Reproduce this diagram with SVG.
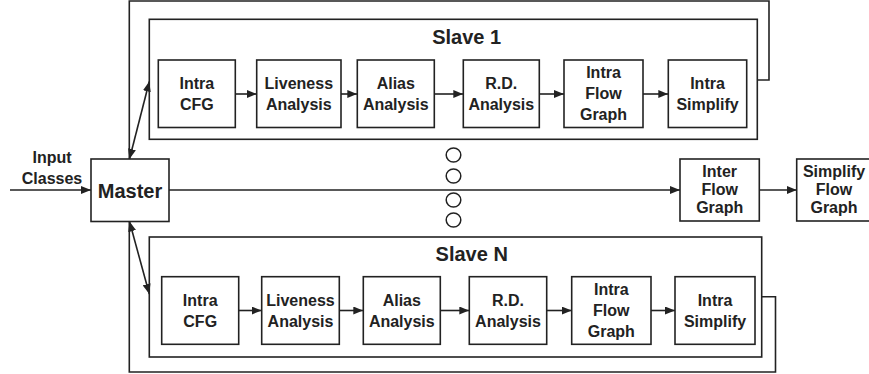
<svg xmlns="http://www.w3.org/2000/svg" width="869" height="374" viewBox="0 0 869 374">
  <style>
    .box { fill: #fff; stroke: #222; stroke-width: 1.6; }
    .frame { fill: none; stroke: #222; stroke-width: 1.6; }
    .wire { fill: none; stroke: #222; stroke-width: 1.6; }
    .dot { fill: #fff; stroke: #222; stroke-width: 1.5; }
    text { font-family: "Liberation Sans", Arial, sans-serif; font-weight: bold; fill: #222; text-anchor: middle; }
    .lbl { font-size: 16px; }
    .big { font-size: 20px; }
  </style>
  <defs>
    <marker id="arr" markerUnits="userSpaceOnUse" markerWidth="10" markerHeight="8" refX="10" refY="4" orient="auto-start-reverse">
      <path d="M0,0 L10,4 L0,8 z" fill="#222"/>
    </marker>
  </defs>
  <rect width="869" height="374" fill="#fff"/>

  <!-- slave containers -->
  <g id="slave1">
    <rect class="frame" x="149.3" y="19.3" width="608" height="120"/>
    <text class="big" x="466.7" y="44">Slave 1</text>
  </g>
  <g id="slaveN">
    <rect class="frame" x="149.3" y="237" width="612.4" height="120"/>
    <text class="big" x="471.7" y="261">Slave N</text>
  </g>

  <!-- Slave 1 pipeline -->
  <g id="s1-cfg"><rect class="box" x="158.3" y="60" width="77" height="67.5"/>
    <text class="lbl" x="196.8" y="88.5">Intra</text><text class="lbl" x="196.8" y="109.5">CFG</text></g>
  <g id="s1-live"><rect class="box" x="256.7" y="60" width="84.3" height="67.5"/>
    <text class="lbl" x="298.8" y="88.5">Liveness</text><text class="lbl" x="298.8" y="109.5">Analysis</text></g>
  <g id="s1-alias"><rect class="box" x="357.3" y="60" width="77" height="67.5"/>
    <text class="lbl" x="395.8" y="88.5">Alias</text><text class="lbl" x="395.8" y="109.5">Analysis</text></g>
  <g id="s1-rd"><rect class="box" x="463.3" y="60" width="76" height="67.5"/>
    <text class="lbl" x="501.3" y="88.5">R.D.</text><text class="lbl" x="501.3" y="109.5">Analysis</text></g>
  <g id="s1-flow"><rect class="box" x="564" y="60" width="79" height="67.5"/>
    <text class="lbl" x="603.5" y="78">Intra</text><text class="lbl" x="603.5" y="99">Flow</text><text class="lbl" x="603.5" y="120">Graph</text></g>
  <g id="s1-simp"><rect class="box" x="668.3" y="60" width="78.4" height="67.5"/>
    <text class="lbl" x="707.5" y="88.5">Intra</text><text class="lbl" x="707.5" y="109.5">Simplify</text></g>

  <!-- Slave N pipeline -->
  <g id="sn-cfg"><rect class="box" x="161.7" y="276.7" width="77" height="67.6"/>
    <text class="lbl" x="200.2" y="305.5">Intra</text><text class="lbl" x="200.2" y="326.5">CFG</text></g>
  <g id="sn-live"><rect class="box" x="261.7" y="276.7" width="77.6" height="67.6"/>
    <text class="lbl" x="300.5" y="305.5">Liveness</text><text class="lbl" x="300.5" y="326.5">Analysis</text></g>
  <g id="sn-alias"><rect class="box" x="363.3" y="276.7" width="77" height="67.6"/>
    <text class="lbl" x="401.8" y="305.5">Alias</text><text class="lbl" x="401.8" y="326.5">Analysis</text></g>
  <g id="sn-rd"><rect class="box" x="469.3" y="276.7" width="77.4" height="67.6"/>
    <text class="lbl" x="508" y="305.5">R.D.</text><text class="lbl" x="508" y="326.5">Analysis</text></g>
  <g id="sn-flow"><rect class="box" x="571.7" y="276.7" width="79.3" height="67.6"/>
    <text class="lbl" x="611.3" y="295">Intra</text><text class="lbl" x="611.3" y="316">Flow</text><text class="lbl" x="611.3" y="337">Graph</text></g>
  <g id="sn-simp"><rect class="box" x="675" y="276.7" width="80" height="67.6"/>
    <text class="lbl" x="715" y="305.5">Intra</text><text class="lbl" x="715" y="326.5">Simplify</text></g>

  <!-- master and global stages -->
  <g id="input">
    <text class="lbl" x="52" y="163.3">Input</text>
    <text class="lbl" x="52" y="184.3">Classes</text>
  </g>
  <g id="master">
    <rect class="box" x="91" y="159" width="78" height="62.5"/>
    <text class="big" x="130" y="197.5">Master</text>
  </g>
  <g id="inter">
    <rect class="box" x="680" y="159" width="79.3" height="62"/>
    <text class="lbl" x="719.7" y="176.7">Inter</text><text class="lbl" x="719.7" y="195">Flow</text><text class="lbl" x="719.7" y="213.3">Graph</text>
  </g>
  <g id="simplify">
    <rect class="box" x="796.7" y="159" width="75" height="62"/>
    <text class="lbl" x="834" y="176.7">Simplify</text><text class="lbl" x="834" y="195">Flow</text><text class="lbl" x="834" y="213.3">Graph</text>
  </g>

  <!-- ellipsis between slaves -->
  <g id="more">
    <ellipse class="dot" cx="453.5" cy="155" rx="7.3" ry="7"/>
    <ellipse class="dot" cx="453.5" cy="176" rx="7.3" ry="7"/>
    <ellipse class="dot" cx="453.5" cy="200" rx="7.3" ry="7"/>
    <ellipse class="dot" cx="453.5" cy="220" rx="7.3" ry="7"/>
  </g>

  <g id="connectors">
    <line class="wire" x1="10" y1="190" x2="91" y2="190" marker-end="url(#arr)"/>
    <line class="wire" x1="169" y1="190" x2="680" y2="190" marker-end="url(#arr)"/>
    <line class="wire" x1="759.3" y1="190" x2="796.7" y2="190" marker-end="url(#arr)"/>

    <!-- master to slaves -->
    <line class="wire" x1="129.5" y1="159" x2="149.3" y2="81.5" marker-start="url(#arr)" marker-end="url(#arr)"/>
    <line class="wire" x1="129.5" y1="221.5" x2="149.3" y2="294" marker-start="url(#arr)" marker-end="url(#arr)"/>

    <!-- results back to master -->
    <polyline class="wire" points="757.3,80 769,80 769,1 129.3,1 129.3,159"/>
    <polyline class="wire" points="761.7,296.7 775.5,296.7 775.5,372 129.3,372 129.3,221.5"/>

    <!-- slave 1 stages -->
    <line class="wire" x1="235.3" y1="94" x2="256.7" y2="94" marker-end="url(#arr)"/>
    <line class="wire" x1="341" y1="94" x2="357.3" y2="94" marker-end="url(#arr)"/>
    <line class="wire" x1="434.3" y1="94" x2="463.3" y2="94" marker-end="url(#arr)"/>
    <line class="wire" x1="539.3" y1="94" x2="564" y2="94" marker-end="url(#arr)"/>
    <line class="wire" x1="643" y1="94" x2="668.3" y2="94" marker-end="url(#arr)"/>

    <!-- slave N stages -->
    <line class="wire" x1="238.7" y1="310.5" x2="261.7" y2="310.5" marker-end="url(#arr)"/>
    <line class="wire" x1="339.3" y1="310.5" x2="363.3" y2="310.5" marker-end="url(#arr)"/>
    <line class="wire" x1="440.3" y1="310.5" x2="469.3" y2="310.5" marker-end="url(#arr)"/>
    <line class="wire" x1="546.7" y1="310.5" x2="571.7" y2="310.5" marker-end="url(#arr)"/>
    <line class="wire" x1="651" y1="310.5" x2="675" y2="310.5" marker-end="url(#arr)"/>
  </g>
</svg>
